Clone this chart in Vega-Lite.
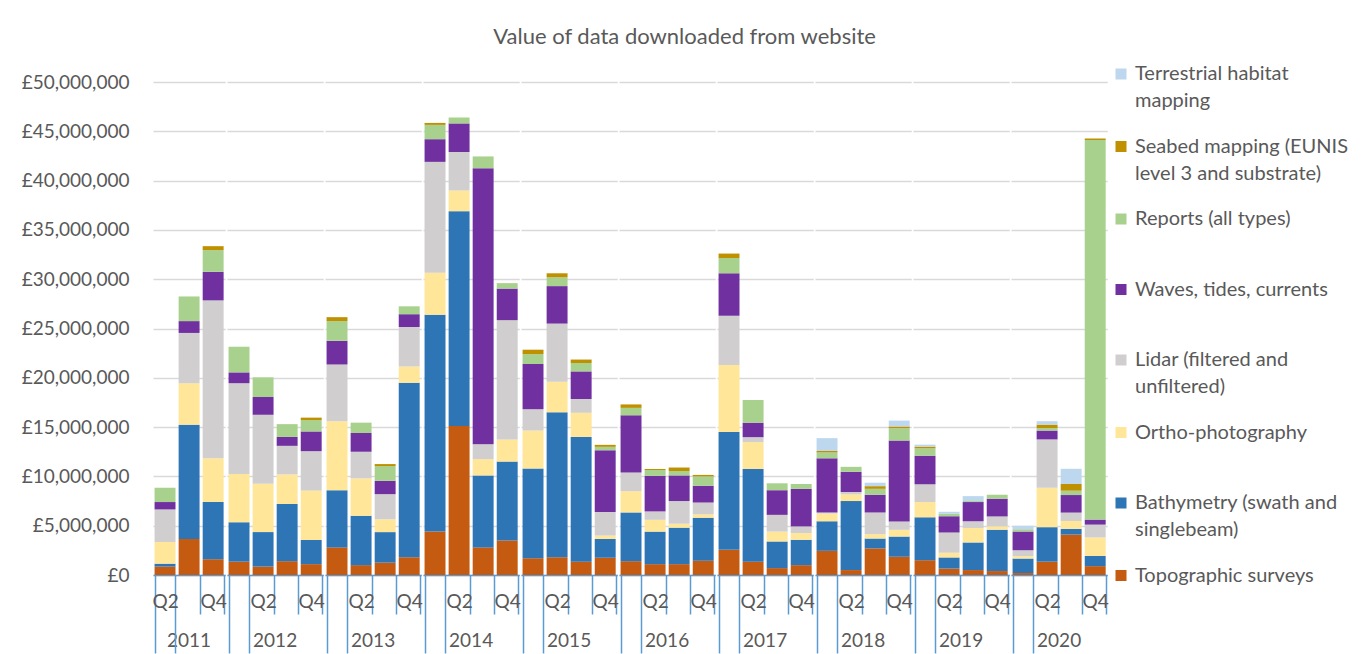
{
  "$schema": "https://vega.github.io/schema/vega-lite/v6.json",
  "padding": {"left": 21, "top": 26, "right": 5, "bottom": 0},
  "background": "white",
  "title": {"text": "Value of data downloaded from website", "fontSize": 22, "font": "Lato", "fontWeight": "normal", "color": "#595959", "anchor": "middle", "frame": "bounds", "offset": -10},
  "data": {"values": [
    {"year":"2011","q":"Q2","Topographic surveys":850000,"Bathymetry (swath and singlebeam)":300000,"Ortho-photography":2200000,"Lidar (filtered and unfiltered)":3300000,"Waves, tides, currents":750000,"Reports (all types)":1450000,"Seabed mapping (EUNIS level 3 and substrate)":0,"Terrestrial habitat mapping":0},
    {"year":"2011","q":"Q3","Topographic surveys":3650000,"Bathymetry (swath and singlebeam)":11600000,"Ortho-photography":4200000,"Lidar (filtered and unfiltered)":5100000,"Waves, tides, currents":1200000,"Reports (all types)":2500000,"Seabed mapping (EUNIS level 3 and substrate)":0,"Terrestrial habitat mapping":0},
    {"year":"2011","q":"Q4","Topographic surveys":1600000,"Bathymetry (swath and singlebeam)":5800000,"Ortho-photography":4450000,"Lidar (filtered and unfiltered)":16000000,"Waves, tides, currents":2900000,"Reports (all types)":2200000,"Seabed mapping (EUNIS level 3 and substrate)":400000,"Terrestrial habitat mapping":0},
    {"year":"2012","q":"Q1","Topographic surveys":1350000,"Bathymetry (swath and singlebeam)":4000000,"Ortho-photography":4900000,"Lidar (filtered and unfiltered)":9200000,"Waves, tides, currents":1100000,"Reports (all types)":2600000,"Seabed mapping (EUNIS level 3 and substrate)":0,"Terrestrial habitat mapping":0},
    {"year":"2012","q":"Q2","Topographic surveys":850000,"Bathymetry (swath and singlebeam)":3500000,"Ortho-photography":4900000,"Lidar (filtered and unfiltered)":7000000,"Waves, tides, currents":1800000,"Reports (all types)":2000000,"Seabed mapping (EUNIS level 3 and substrate)":0,"Terrestrial habitat mapping":0},
    {"year":"2012","q":"Q3","Topographic surveys":1400000,"Bathymetry (swath and singlebeam)":5800000,"Ortho-photography":3000000,"Lidar (filtered and unfiltered)":2900000,"Waves, tides, currents":900000,"Reports (all types)":1300000,"Seabed mapping (EUNIS level 3 and substrate)":0,"Terrestrial habitat mapping":0},
    {"year":"2012","q":"Q4","Topographic surveys":1100000,"Bathymetry (swath and singlebeam)":2460000,"Ortho-photography":5000000,"Lidar (filtered and unfiltered)":4000000,"Waves, tides, currents":2000000,"Reports (all types)":1150000,"Seabed mapping (EUNIS level 3 and substrate)":250000,"Terrestrial habitat mapping":0},
    {"year":"2013","q":"Q1","Topographic surveys":2800000,"Bathymetry (swath and singlebeam)":5800000,"Ortho-photography":7000000,"Lidar (filtered and unfiltered)":5750000,"Waves, tides, currents":2400000,"Reports (all types)":2000000,"Seabed mapping (EUNIS level 3 and substrate)":400000,"Terrestrial habitat mapping":0},
    {"year":"2013","q":"Q2","Topographic surveys":1000000,"Bathymetry (swath and singlebeam)":5000000,"Ortho-photography":3800000,"Lidar (filtered and unfiltered)":2700000,"Waves, tides, currents":1900000,"Reports (all types)":1050000,"Seabed mapping (EUNIS level 3 and substrate)":0,"Terrestrial habitat mapping":0},
    {"year":"2013","q":"Q3","Topographic surveys":1250000,"Bathymetry (swath and singlebeam)":3100000,"Ortho-photography":1300000,"Lidar (filtered and unfiltered)":2550000,"Waves, tides, currents":1350000,"Reports (all types)":1500000,"Seabed mapping (EUNIS level 3 and substrate)":200000,"Terrestrial habitat mapping":0},
    {"year":"2013","q":"Q4","Topographic surveys":1800000,"Bathymetry (swath and singlebeam)":17700000,"Ortho-photography":1650000,"Lidar (filtered and unfiltered)":4000000,"Waves, tides, currents":1300000,"Reports (all types)":800000,"Seabed mapping (EUNIS level 3 and substrate)":0,"Terrestrial habitat mapping":0},
    {"year":"2014","q":"Q1","Topographic surveys":4400000,"Bathymetry (swath and singlebeam)":22000000,"Ortho-photography":4250000,"Lidar (filtered and unfiltered)":11250000,"Waves, tides, currents":2300000,"Reports (all types)":1450000,"Seabed mapping (EUNIS level 3 and substrate)":200000,"Terrestrial habitat mapping":0},
    {"year":"2014","q":"Q2","Topographic surveys":15100000,"Bathymetry (swath and singlebeam)":21800000,"Ortho-photography":2100000,"Lidar (filtered and unfiltered)":3900000,"Waves, tides, currents":2900000,"Reports (all types)":600000,"Seabed mapping (EUNIS level 3 and substrate)":0,"Terrestrial habitat mapping":0},
    {"year":"2014","q":"Q3","Topographic surveys":2800000,"Bathymetry (swath and singlebeam)":7300000,"Ortho-photography":1650000,"Lidar (filtered and unfiltered)":1500000,"Waves, tides, currents":28000000,"Reports (all types)":1200000,"Seabed mapping (EUNIS level 3 and substrate)":0,"Terrestrial habitat mapping":0},
    {"year":"2014","q":"Q4","Topographic surveys":3500000,"Bathymetry (swath and singlebeam)":8000000,"Ortho-photography":2250000,"Lidar (filtered and unfiltered)":12100000,"Waves, tides, currents":3200000,"Reports (all types)":550000,"Seabed mapping (EUNIS level 3 and substrate)":0,"Terrestrial habitat mapping":0},
    {"year":"2015","q":"Q1","Topographic surveys":1700000,"Bathymetry (swath and singlebeam)":9100000,"Ortho-photography":3850000,"Lidar (filtered and unfiltered)":2150000,"Waves, tides, currents":4600000,"Reports (all types)":1000000,"Seabed mapping (EUNIS level 3 and substrate)":450000,"Terrestrial habitat mapping":0},
    {"year":"2015","q":"Q2","Topographic surveys":1800000,"Bathymetry (swath and singlebeam)":14700000,"Ortho-photography":3100000,"Lidar (filtered and unfiltered)":5900000,"Waves, tides, currents":3800000,"Reports (all types)":900000,"Seabed mapping (EUNIS level 3 and substrate)":400000,"Terrestrial habitat mapping":0},
    {"year":"2015","q":"Q3","Topographic surveys":1350000,"Bathymetry (swath and singlebeam)":12650000,"Ortho-photography":2450000,"Lidar (filtered and unfiltered)":1400000,"Waves, tides, currents":2800000,"Reports (all types)":850000,"Seabed mapping (EUNIS level 3 and substrate)":350000,"Terrestrial habitat mapping":0},
    {"year":"2015","q":"Q4","Topographic surveys":1750000,"Bathymetry (swath and singlebeam)":1900000,"Ortho-photography":350000,"Lidar (filtered and unfiltered)":2400000,"Waves, tides, currents":6250000,"Reports (all types)":350000,"Seabed mapping (EUNIS level 3 and substrate)":200000,"Terrestrial habitat mapping":0},
    {"year":"2016","q":"Q1","Topographic surveys":1400000,"Bathymetry (swath and singlebeam)":4950000,"Ortho-photography":2150000,"Lidar (filtered and unfiltered)":1900000,"Waves, tides, currents":5800000,"Reports (all types)":750000,"Seabed mapping (EUNIS level 3 and substrate)":350000,"Terrestrial habitat mapping":0},
    {"year":"2016","q":"Q2","Topographic surveys":1100000,"Bathymetry (swath and singlebeam)":3300000,"Ortho-photography":1200000,"Lidar (filtered and unfiltered)":850000,"Waves, tides, currents":3600000,"Reports (all types)":600000,"Seabed mapping (EUNIS level 3 and substrate)":100000,"Terrestrial habitat mapping":0},
    {"year":"2016","q":"Q3","Topographic surveys":1100000,"Bathymetry (swath and singlebeam)":3700000,"Ortho-photography":400000,"Lidar (filtered and unfiltered)":2300000,"Waves, tides, currents":2600000,"Reports (all types)":450000,"Seabed mapping (EUNIS level 3 and substrate)":350000,"Terrestrial habitat mapping":0},
    {"year":"2016","q":"Q4","Topographic surveys":1450000,"Bathymetry (swath and singlebeam)":4350000,"Ortho-photography":350000,"Lidar (filtered and unfiltered)":1200000,"Waves, tides, currents":1700000,"Reports (all types)":950000,"Seabed mapping (EUNIS level 3 and substrate)":150000,"Terrestrial habitat mapping":0},
    {"year":"2017","q":"Q1","Topographic surveys":2550000,"Bathymetry (swath and singlebeam)":11950000,"Ortho-photography":6800000,"Lidar (filtered and unfiltered)":5000000,"Waves, tides, currents":4300000,"Reports (all types)":1550000,"Seabed mapping (EUNIS level 3 and substrate)":450000,"Terrestrial habitat mapping":0},
    {"year":"2017","q":"Q2","Topographic surveys":1350000,"Bathymetry (swath and singlebeam)":9400000,"Ortho-photography":2730000,"Lidar (filtered and unfiltered)":500000,"Waves, tides, currents":1470000,"Reports (all types)":2300000,"Seabed mapping (EUNIS level 3 and substrate)":0,"Terrestrial habitat mapping":0},
    {"year":"2017","q":"Q3","Topographic surveys":700000,"Bathymetry (swath and singlebeam)":2700000,"Ortho-photography":1000000,"Lidar (filtered and unfiltered)":1700000,"Waves, tides, currents":2500000,"Reports (all types)":700000,"Seabed mapping (EUNIS level 3 and substrate)":0,"Terrestrial habitat mapping":0},
    {"year":"2017","q":"Q4","Topographic surveys":1000000,"Bathymetry (swath and singlebeam)":2570000,"Ortho-photography":680000,"Lidar (filtered and unfiltered)":680000,"Waves, tides, currents":3800000,"Reports (all types)":500000,"Seabed mapping (EUNIS level 3 and substrate)":0,"Terrestrial habitat mapping":0},
    {"year":"2018","q":"Q1","Topographic surveys":2450000,"Bathymetry (swath and singlebeam)":3000000,"Ortho-photography":780000,"Lidar (filtered and unfiltered)":100000,"Waves, tides, currents":5500000,"Reports (all types)":600000,"Seabed mapping (EUNIS level 3 and substrate)":150000,"Terrestrial habitat mapping":1300000},
    {"year":"2018","q":"Q2","Topographic surveys":500000,"Bathymetry (swath and singlebeam)":7000000,"Ortho-photography":680000,"Lidar (filtered and unfiltered)":240000,"Waves, tides, currents":2050000,"Reports (all types)":500000,"Seabed mapping (EUNIS level 3 and substrate)":0,"Terrestrial habitat mapping":0},
    {"year":"2018","q":"Q3","Topographic surveys":2700000,"Bathymetry (swath and singlebeam)":1000000,"Ortho-photography":440000,"Lidar (filtered and unfiltered)":2200000,"Waves, tides, currents":1800000,"Reports (all types)":600000,"Seabed mapping (EUNIS level 3 and substrate)":270000,"Terrestrial habitat mapping":350000},
    {"year":"2018","q":"Q4","Topographic surveys":1850000,"Bathymetry (swath and singlebeam)":2050000,"Ortho-photography":680000,"Lidar (filtered and unfiltered)":850000,"Waves, tides, currents":8200000,"Reports (all types)":1260000,"Seabed mapping (EUNIS level 3 and substrate)":170000,"Terrestrial habitat mapping":600000},
    {"year":"2019","q":"Q1","Topographic surveys":1500000,"Bathymetry (swath and singlebeam)":4350000,"Ortho-photography":1550000,"Lidar (filtered and unfiltered)":1800000,"Waves, tides, currents":2900000,"Reports (all types)":750000,"Seabed mapping (EUNIS level 3 and substrate)":170000,"Terrestrial habitat mapping":200000},
    {"year":"2019","q":"Q2","Topographic surveys":650000,"Bathymetry (swath and singlebeam)":1130000,"Ortho-photography":480000,"Lidar (filtered and unfiltered)":2050000,"Waves, tides, currents":1650000,"Reports (all types)":250000,"Seabed mapping (EUNIS level 3 and substrate)":0,"Terrestrial habitat mapping":200000},
    {"year":"2019","q":"Q3","Topographic surveys":500000,"Bathymetry (swath and singlebeam)":2800000,"Ortho-photography":1470000,"Lidar (filtered and unfiltered)":680000,"Waves, tides, currents":1950000,"Reports (all types)":100000,"Seabed mapping (EUNIS level 3 and substrate)":0,"Terrestrial habitat mapping":500000},
    {"year":"2019","q":"Q4","Topographic surveys":400000,"Bathymetry (swath and singlebeam)":4200000,"Ortho-photography":340000,"Lidar (filtered and unfiltered)":1000000,"Waves, tides, currents":1800000,"Reports (all types)":400000,"Seabed mapping (EUNIS level 3 and substrate)":0,"Terrestrial habitat mapping":0},
    {"year":"2020","q":"Q1","Topographic surveys":200000,"Bathymetry (swath and singlebeam)":1470000,"Ortho-photography":240000,"Lidar (filtered and unfiltered)":600000,"Waves, tides, currents":1900000,"Reports (all types)":230000,"Seabed mapping (EUNIS level 3 and substrate)":0,"Terrestrial habitat mapping":350000},
    {"year":"2020","q":"Q2","Topographic surveys":1350000,"Bathymetry (swath and singlebeam)":3500000,"Ortho-photography":4000000,"Lidar (filtered and unfiltered)":4900000,"Waves, tides, currents":900000,"Reports (all types)":250000,"Seabed mapping (EUNIS level 3 and substrate)":350000,"Terrestrial habitat mapping":350000},
    {"year":"2020","q":"Q3","Topographic surveys":4100000,"Bathymetry (swath and singlebeam)":580000,"Ortho-photography":800000,"Lidar (filtered and unfiltered)":850000,"Waves, tides, currents":1780000,"Reports (all types)":440000,"Seabed mapping (EUNIS level 3 and substrate)":680000,"Terrestrial habitat mapping":1540000},
    {"year":"2020","q":"Q4","Topographic surveys":900000,"Bathymetry (swath and singlebeam)":1030000,"Ortho-photography":1880000,"Lidar (filtered and unfiltered)":1300000,"Waves, tides, currents":510000,"Reports (all types)":38500000,"Seabed mapping (EUNIS level 3 and substrate)":150000,"Terrestrial habitat mapping":0}
  ]},
  "transform": [
    {"fold": ["Topographic surveys", "Bathymetry (swath and singlebeam)", "Ortho-photography", "Lidar (filtered and unfiltered)", "Waves, tides, currents", "Reports (all types)", "Seabed mapping (EUNIS level 3 and substrate)", "Terrestrial habitat mapping"], "as": ["series", "value"]},
    {"calculate": "indexof(['Topographic surveys', 'Bathymetry (swath and singlebeam)', 'Ortho-photography', 'Lidar (filtered and unfiltered)', 'Waves, tides, currents', 'Reports (all types)', 'Seabed mapping (EUNIS level 3 and substrate)', 'Terrestrial habitat mapping'], datum.series)", "as": "stackOrder"}
  ],
  "facet": {"column": {"field": "year", "type": "ordinal", "title": null, "header": {"labelOrient": "bottom", "labelFontSize": 19, "labelFont": "Lato", "labelColor": "#595959", "labelPadding": -22}}},
  "spacing": 0,
  "resolve": {"scale": {"x": "independent"}},
  "spec": {
    "width": {"step": 24.06},
    "height": 493,
    "mark": {"type": "bar"},
    "encoding": {
      "x": {"field": "q", "type": "ordinal", "title": null,
        "scale": {"paddingInner": 0.13, "paddingOuter": 0.065},
        "axis": {"tickBand": "extent", "labelAngle": 0, "labelFontSize": 19, "labelFont": "Lato", "labelColor": "#595959",
          "labelExpr": "datum.value == 'Q2' || datum.value == 'Q4' ? datum.value : ''",
          "domainColor": "#5B9BD5", "domainWidth": 1.5, "tickColor": "#5B9BD5", "tickWidth": 1.5,
          "tickSize": {"condition": {"test": "datum.index <= 0", "value": 78}, "value": 39},
          "labelPadding": {"condition": {"test": "datum.index <= 0", "value": -61}, "value": -22}}},
      "y": {"field": "value", "type": "quantitative", "stack": "zero", "title": null,
        "scale": {"domain": [0, 50000000]},
        "axis": {"values": [0, 5000000, 10000000, 15000000, 20000000, 25000000, 30000000, 35000000, 40000000, 45000000, 50000000],
          "labelExpr": "'£' + format(datum.value, ',')", "labelFontSize": 19, "labelFont": "Lato", "labelColor": "#595959",
          "labelPadding": 22, "domain": false, "ticks": false, "gridColor": "#D9D9D9", "gridWidth": 1.5}},
      "color": {"field": "series", "type": "nominal",
        "scale": {"domain": ["Terrestrial habitat mapping", "Seabed mapping (EUNIS level 3 and substrate)", "Reports (all types)", "Waves, tides, currents", "Lidar (filtered and unfiltered)", "Ortho-photography", "Bathymetry (swath and singlebeam)", "Topographic surveys"],
          "range": ["#BDD7EE", "#BF9000", "#A9D18E", "#7030A0", "#D0CECE", "#FFE699", "#2E75B6", "#C55A11"]},
        "legend": {"title": null, "orient": "none", "legendX": 958, "legendY": -43, "clipHeight": 70, "rowPadding": 0.5,
          "symbolType": "square", "symbolSize": 121, "symbolStrokeWidth": 0, "labelFontSize": 20, "labelFont": "Lato", "labelColor": "#595959",
          "labelLimit": 300, "labelOffset": 4, "labelBaseline": "middle",
          "labelExpr": "datum.label == 'Terrestrial habitat mapping' ? ['Terrestrial habitat', 'mapping'] : datum.label == 'Seabed mapping (EUNIS level 3 and substrate)' ? ['Seabed mapping (EUNIS', 'level 3 and substrate)'] : datum.label == 'Lidar (filtered and unfiltered)' ? ['Lidar (filtered and', 'unfiltered)'] : datum.label == 'Bathymetry (swath and singlebeam)' ? ['Bathymetry (swath and', 'singlebeam)'] : datum.label"}},
      "order": {"field": "stackOrder", "type": "quantitative"}
    }
  },
  "config": {"view": {"stroke": null}, "font": "Lato", "style": {"guide-label": {"lineHeight": 27}}}
}
